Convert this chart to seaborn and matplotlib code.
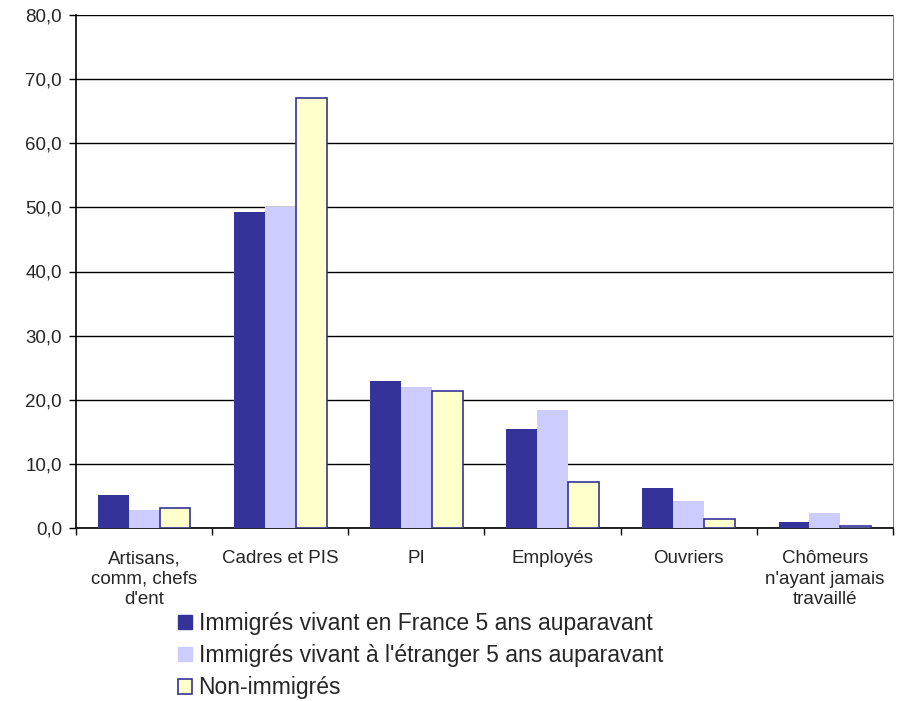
import seaborn as sns
import matplotlib.pyplot as plt
import numpy as np
import pandas as pd
from matplotlib.ticker import FuncFormatter

categories = ["Artisans,\ncomm, chefs\nd'ent", "Cadres et PIS", "PI", "Employés",
              "Ouvriers", "Chômeurs\nn'ayant jamais\ntravaillé"]
series = ["Immigrés vivant en France 5 ans auparavant",
          "Immigrés vivant à l'étranger 5 ans auparavant",
          "Non-immigrés"]
imm_france = [5.1, 49.3, 22.9, 15.4, 6.2, 0.9]
imm_etranger = [2.8, 50.1, 22.0, 18.4, 4.2, 2.3]
non_imm = [3.1, 67.0, 21.3, 7.2, 1.4, 0.3]

df = pd.DataFrame({
    'cat': categories * 3,
    'serie': [series[0]] * 6 + [series[1]] * 6 + [series[2]] * 6,
    'val': imm_france + imm_etranger + non_imm,
})

sns.set_style('white')
plt.rcParams['font.family'] = ['Liberation Sans', 'DejaVu Sans']

fig = plt.figure(figsize=(9.03, 7.01), dpi=100)
ax = fig.add_axes([76 / 903, 1 - 528 / 701, (893 - 76) / 903, (528 - 15) / 701])

colors = ['#333399', '#CCCCFF', '#FFFFCC']
sns.barplot(data=df, x='cat', y='val', hue='serie', palette=colors, width=0.68,
            saturation=1, ax=ax, zorder=3, legend=False)

for i, cont in enumerate(ax.containers):
    for b in cont:
        if i == 2:
            b.set_edgecolor('#333399')
            b.set_linewidth(1.2)
        else:
            b.set_edgecolor(colors[i])
            b.set_linewidth(0)

ax.set_ylim(0, 80)
ax.set_yticks(np.arange(0, 81, 10))
ax.yaxis.set_major_formatter(FuncFormatter(lambda v, p: f"{v:.1f}".replace('.', ',')))
ax.yaxis.grid(True, color='black', linewidth=1)
ax.set_axisbelow(True)

ax.set_xlim(-0.5, 5.5)
ax.set_xticks(np.arange(-0.5, 6, 1))
ax.set_xticklabels([])
ax.set_xticks(np.arange(6), minor=True)
ax.set_xticklabels(categories, minor=True, fontsize=13.5, linespacing=1.27)
ax.tick_params(axis='x', which='major', length=5, width=1, color='black', direction='out', bottom=True)
ax.tick_params(axis='x', which='minor', length=0, pad=16)
ax.tick_params(axis='y', length=5, width=1, color='black', direction='out', left=True, labelsize=13.5, pad=5)
ax.set_xlabel('')
ax.set_ylabel('')

for s in ['left', 'bottom']:
    ax.spines[s].set_color('black')
    ax.spines[s].set_linewidth(1.2)
ax.spines['right'].set_color('#808080')
ax.spines['top'].set_visible(False)

handles = [plt.Rectangle((0, 0), 1, 1, facecolor=colors[0], edgecolor=colors[0]),
           plt.Rectangle((0, 0), 1, 1, facecolor=colors[1], edgecolor=colors[1]),
           plt.Rectangle((0, 0), 1, 1, facecolor=colors[2], edgecolor='#333399', linewidth=1.2)]
fig.legend(handles, series, loc='upper left', bbox_to_anchor=(178 / 903, 1 - 612 / 701),
           frameon=False, fontsize=16.5, handlelength=0.6, handleheight=0.6,
           handletextpad=0.3, labelspacing=0.4, borderaxespad=0, borderpad=0)

fig.savefig('out.png', dpi=100)
